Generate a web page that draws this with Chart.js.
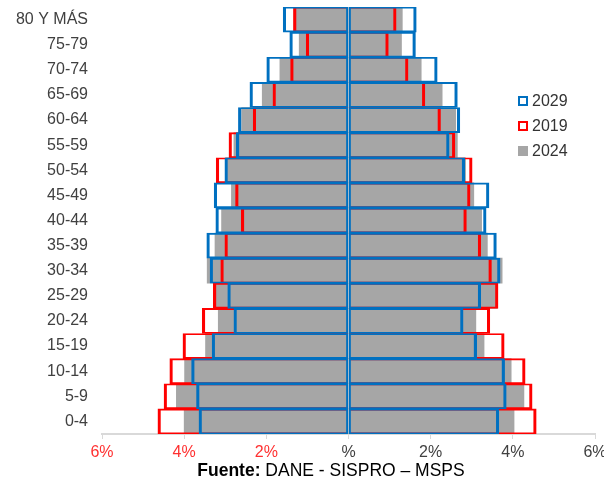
<!DOCTYPE html>
<html>
<head>
<meta charset="utf-8">
<script src="https://cdn.jsdelivr.net/npm/chart.js@4.4.1/dist/chart.umd.min.js"></script>
<style>
    html, body { margin: 0; padding: 0; background: #fff; }
    #wrap { position: relative; width: 604px; height: 487px; font-family: "Liberation Sans", Arial, sans-serif; }
    #pyramidChart { display: block; }
    #legend { position: absolute; left: 518px; top: 88px; color: #333; font-size: 16px; }
    #legend div { height: 25px; display: flex; align-items: center; }
    #legend span.box { display: inline-block; width: 6px; height: 6px; border: 2px solid; margin-right: 4px; }
    #source { position: absolute; left: 0; width: 662px; top: 460px; text-align: center; font-size: 17.5px; color: #000; }
</style>
</head>
<body>
<div id="wrap">
    <canvas id="pyramidChart" width="604" height="487"></canvas>
    <div id="legend">
        <div><span class="box" style="border-color:#0070c0"></span>2029</div>
        <div><span class="box" style="border-color:#ff0000"></span>2019</div>
        <div><span class="box" style="border-color:#a6a6a6;background:#a6a6a6"></span>2024</div>
    </div>
    <div id="source"><b>Fuente:</b> DANE - SISPRO – MSPS</div>
</div>
<script>
const ageGroups = ['80 Y MÁS', '75-79', '70-74', '65-69', '60-64', '55-59', '50-54', '45-49', '40-44',
    '35-39', '30-34', '25-29', '20-24', '15-19', '10-14', '5-9', '0-4'];

// percent of population, left side / right side of the pyramid
const left2029  = [1.59, 1.43, 1.99, 2.40, 2.68, 2.73, 3.01, 3.27, 3.23, 3.45, 3.37, 2.94, 2.79, 3.32, 3.82, 3.70, 3.64];
const right2029 = [1.65, 1.63, 2.16, 2.65, 2.71, 2.45, 2.83, 3.42, 3.35, 3.60, 3.69, 3.22, 2.79, 3.12, 3.80, 3.84, 3.66];
const left2019  = [1.34, 1.03, 1.41, 1.84, 2.32, 2.91, 3.22, 2.75, 2.61, 3.01, 3.11, 3.29, 3.56, 4.03, 4.35, 4.49, 4.64];
const right2019 = [1.16, 0.97, 1.45, 1.86, 2.24, 2.59, 3.01, 2.96, 2.87, 3.22, 3.48, 3.64, 3.44, 3.79, 4.30, 4.47, 4.57];
const left2024  = [1.33, 1.20, 1.67, 2.10, 2.60, 2.79, 2.99, 2.85, 3.09, 3.25, 3.44, 3.25, 3.17, 3.48, 3.99, 4.19, 4.00];
const right2024 = [1.31, 1.29, 1.77, 2.28, 2.61, 2.65, 2.85, 3.05, 3.24, 3.38, 3.74, 3.62, 3.10, 3.30, 3.96, 4.27, 4.03];

const xTicks = [-6, -4, -2, 0, 2, 4, 6];

const blue = '#0070c0';
const red = '#ff0000';
const gray = '#a6a6a6';

// inner = border width on the side that touches 0
function outline(label, values, color, side, inner) {
    return {
        label: label,
        data: side === 'left' ? values.map(v => -v) : values,
        backgroundColor: 'rgba(0,0,0,0)',
        borderColor: color,
        borderSkipped: false,
        borderWidth: side === 'left'
            ? { top: 1.25, bottom: 1.25, left: 2.5, right: inner }
            : { top: 1.25, bottom: 1.25, left: inner, right: 2.5 }
    };
}

function filled(label, values, side) {
    return {
        label: label,
        data: side === 'left' ? values.map(v => -v) : values,
        backgroundColor: gray,
        borderWidth: 0
    };
}

const ctx = document.getElementById('pyramidChart').getContext('2d');
new Chart(ctx, {
    type: 'bar',
    data: {
        labels: ageGroups,
        datasets: [
            outline('2029', left2029, blue, 'left', 1.5),
            outline('2029', right2029, blue, 'right', 1.5),
            outline('2019', left2019, red, 'left', 0),
            outline('2019', right2019, red, 'right', 0),
            filled('2024', left2024, 'left'),
            filled('2024', right2024, 'right')
        ]
    },
    options: {
        indexAxis: 'y',
        responsive: false,
        animation: false,
        grouped: false,
        barPercentage: 1,
        categoryPercentage: 1,
        layout: { padding: { top: 7, right: 9 } },
        plugins: {
            legend: { display: false },
            tooltip: { enabled: false }
        },
        scales: {
            x: {
                min: -6,
                max: 6,
                afterBuildTicks: axis => { axis.ticks = xTicks.map(v => ({ value: v })); },
                afterFit: axis => {
                    axis.height = 53;
                    axis.paddingLeft = 0;
                    axis.paddingRight = 0;
                },
                grid: { drawOnChartArea: false, color: '#d9d9d9', tickLength: 5 },
                border: { color: '#d9d9d9', width: 2 },
                ticks: {
                    padding: 4,
                    font: { family: 'Liberation Sans', size: 16 },
                    color: c => c.tick.value < 0 ? '#ff3030' : '#404040',
                    callback: v => v === 0 ? '%' : Math.abs(v) + '%'
                }
            },
            y: {
                afterFit: axis => {
                    axis.width = 102;
                    axis.paddingTop = 0;
                    axis.paddingBottom = 0;
                },
                grid: { display: false, drawTicks: false },
                border: { display: false },
                ticks: {
                    padding: 14,
                    font: { family: 'Liberation Sans', size: 16 },
                    color: '#404040'
                }
            }
        }
    }
});
</script>
</body>
</html>
